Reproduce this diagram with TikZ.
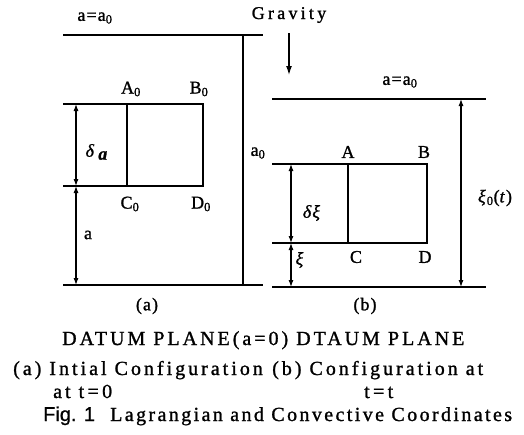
\documentclass[tikz,border=0pt]{standalone}
\usepackage{fontspec}
\setmainfont{Liberation Serif}
\newfontfamily\figsans{Liberation Sans}[FakeBold=0.8]
\usetikzlibrary{arrows.meta}
\begin{document}
\begin{tikzpicture}[x=1pt,y=-1pt,
  ln/.style={line width=1.1pt},
  dimarr/.style={line width=1.1pt,{Latex[length=7pt,width=5pt]}-{Latex[length=7pt,width=5pt]}},
  lbl/.style={inner sep=0pt,font=\fontsize{18}{20}\selectfont\addfontfeatures{LetterSpace=6,FakeBold=1.2}},
  captxt/.style={inner sep=0pt,anchor=base west,font=\fontsize{20}{24}\selectfont\addfontfeatures{LetterSpace=15,FakeBold=1.2}}]
\useasboundingbox (0,0) rectangle (524,434);
% ---------- panel (a)
\coordinate (aTL) at (63,35);   \coordinate (aTR) at (263,35);
\coordinate (aBL) at (63,285);  \coordinate (aBR) at (263,285);
\coordinate (aVt) at (243,35);  \coordinate (aVb) at (243,285);
\coordinate (aRL) at (63,104);  \coordinate (aRR) at (203,104);
\coordinate (aSL) at (63,186);  \coordinate (aSR) at (203,186);
\coordinate (aMt) at (127,104); \coordinate (aMb) at (127,186);
\coordinate (aD1) at (76,104);  \coordinate (aD2) at (76,186); \coordinate (aD3) at (76,285);
\draw[ln] (aTL) -- (aTR);
\draw[ln] (aBL) -- (aBR);
\draw[line width=1.8pt] (aVt) -- (aVb);
\draw[ln] (aRL) -- (aRR) -- (aSR) -- (aSL);
\draw[ln] (aMt) -- (aMb);
\draw[dimarr] (aD1) -- (aD2);
\draw[dimarr] (aD2) -- (aD3);
\node[lbl] (la1) at (95,18) {a=a\textsubscript{0}};
\node[lbl] (lA0) at (131,89) {A\textsubscript{0}};
\node[lbl] (lB0) at (199,89) {B\textsubscript{0}};
\node[lbl] (lda) at (97,152) {\textit{δ}\,\raisebox{-3pt}{\textbf{\textit{a}}}};
\node[lbl] (lC0) at (130,204) {C\textsubscript{0}};
\node[lbl] (lD0) at (201,204) {D\textsubscript{0}};
\node[lbl] (la) at (88,235) {a};
\node[lbl] (la0) at (258,153) {a\textsubscript{0}};
% ---------- gravity
\node[lbl] (grav) at (289,15) {\addfontfeatures{LetterSpace=18}Gravity};
\coordinate (g1) at (289,33); \coordinate (g2) at (289,75);
\draw[line width=1.3pt,-{Latex[length=9pt,width=6pt]}] (g1) -- (g2);
% ---------- panel (b)
\coordinate (bTL) at (272,99);  \coordinate (bTR) at (486,99);
\coordinate (bBL) at (272,287); \coordinate (bBR) at (486,287);
\coordinate (bRL) at (272,164); \coordinate (bRR) at (427,164);
\coordinate (bSL) at (272,243); \coordinate (bSR) at (427,243);
\coordinate (bMt) at (348,164); \coordinate (bMb) at (348,243);
\coordinate (bD1) at (291,164); \coordinate (bD2) at (291,243); \coordinate (bD3) at (291,287);
\coordinate (bX1) at (461,99);  \coordinate (bX2) at (461,287);
\draw[ln] (bTL) -- (bTR);
\draw[ln] (bBL) -- (bBR);
\draw[ln] (bRL) -- (bRR) -- (bSR) -- (bSL);
\draw[ln] (bMt) -- (bMb);
\draw[dimarr] (bD1) -- (bD2);
\draw[dimarr] (bD2) -- (bD3);
\draw[dimarr] (bX1) -- (bX2);
\node[lbl] (lb1) at (400,82) {a=a\textsubscript{0}};
\node[lbl] (lA) at (348,152) {A};
\node[lbl] (lB) at (424,152) {B};
\node[lbl] (ldx) at (312,213) {\textit{δξ}};
\node[lbl] (lx) at (300,260) {\textit{ξ}};
\node[lbl] (lC) at (356,257) {C};
\node[lbl] (lD) at (425,257) {D};
\node[lbl] (lx0) at (495,198) {\textit{ξ}\textsubscript{0}(\textit{t})};
% ---------- captions
\node[lbl] (pa) at (147,306) {(a)};
\node[lbl] (pb) at (365,306) {(b)};
\node[captxt] (c1) at (62,345) {DATUM PLANE(a=0) DTAUM PLANE};
\node[captxt] (c2a) at (13,375) {(a) Intial Configuration};
\node[captxt] (c2b) at (272,375) {(b) Configuration at};
\node[captxt] (c3a) at (53,398) {at t\,=\,0};
\node[captxt] (c3b) at (364,398) {t\,=\,t};
\node[captxt] (c4a) at (43,421) {\figsans Fig. 1};
\node[captxt,font=\fontsize{20}{24}\selectfont\addfontfeatures{LetterSpace=12,FakeBold=1.2}] (c4b) at (110,421) {Lagrangian and Convective Coordinates};
\end{tikzpicture}
\end{document}
